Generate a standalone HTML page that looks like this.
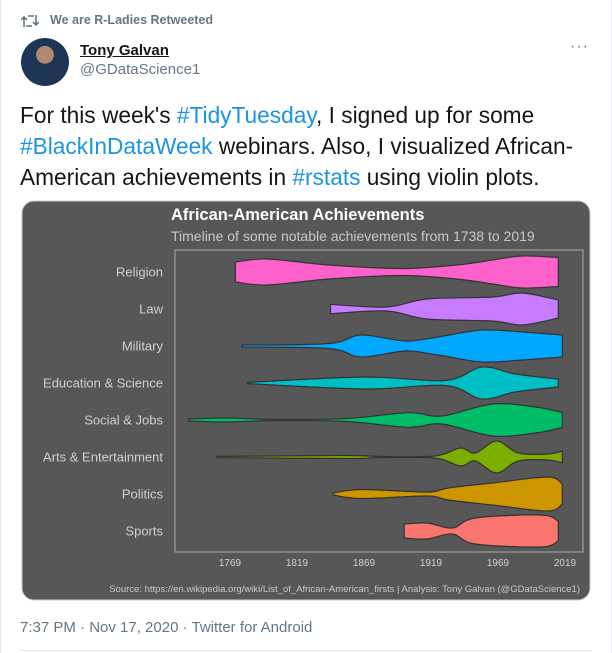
<!DOCTYPE html>
<html><head><meta charset="utf-8">
<style>
body{margin:0;width:612px;height:653px;background:#fff;font-family:"Liberation Sans",sans-serif;position:relative;overflow:hidden}
.abs{position:absolute;margin:0}
.blue{color:#1b95e0}
</style></head>
<body>
<div class="abs" style="left:0;top:0;width:1px;height:653px;background:#e6ecf0"></div>
<div class="abs" style="right:0;top:0;width:1px;height:653px;background:#e6ecf0"></div>
<svg class="abs" style="left:21px;top:13px" width="18" height="16" viewBox="0 0 18 16"><path d="M3 14V4M0 7l3-3 3 3M7 3h6v0M15 2v10M12 9l3 3 3-3M11 13H5" stroke="#657786" stroke-width="1.6" fill="none"/></svg>
<div class="abs" style="left:50px;top:13px;font-size:12.5px;font-weight:bold;color:#657786">We are R-Ladies Retweeted</div>
<div class="abs" style="left:21px;top:38px;width:48px;height:48px;border-radius:50%;background:radial-gradient(circle at 50% 35%,#b08a70 0 22%,#1f3556 23% 100%)"></div>
<div class="abs" style="left:80px;top:42px;font-size:15px;font-weight:bold;color:#14171a;text-decoration:underline">Tony Galvan</div>
<div class="abs" style="left:80px;top:61px;font-size:15px;color:#657786">@GDataScience1</div>
<div class="abs" style="left:570px;top:38px;font-size:16px;color:#657786;letter-spacing:1px">···</div>
<div class="abs" style="left:20px;top:100px;width:585px;font-size:22.7px;line-height:31px;color:#14171a">For this week's <span class="blue">#TidyTuesday</span>, I signed up for some <span class="blue">#BlackInDataWeek</span> webinars. Also, I visualized African-American achievements in <span class="blue">#rstats</span> using violin plots.</div>

<svg class="abs" id="chart" style="left:21px;top:200px" width="570" height="401" viewBox="21 200 570 401">
<rect x="22" y="201" width="568" height="399" rx="12" fill="#575757" stroke="#c8c8c8" stroke-width="1"/>
<text x="171" y="220" font-size="16.5" font-weight="bold" fill="#fff">African-American Achievements</text>
<text x="171" y="241" font-size="14" fill="#c8c8c8">Timeline of some notable achievements from 1738 to 2019</text>
<rect x="175" y="250" width="408" height="302" fill="none" stroke="#aaa" stroke-width="1"/>
<g id="violins"></g>
<text x="580" y="592" font-size="9.5" fill="#c8c8c8" text-anchor="end">Source: https://en.wikipedia.org/wiki/List_of_African-American_firsts  |  Analysis: Tony Galvan (@GDataScience1)</text>
</svg>

<div class="abs" style="left:20px;top:619px;font-size:15px;color:#657786">7:37 PM · Nov 17, 2020 · Twitter for Android</div>
<div class="abs" style="left:20px;top:650px;width:572px;height:1px;background:#e6ecf0"></div>

<script>
const categories=["Religion","Law","Military","Education & Science","Social & Jobs","Arts & Entertainment","Politics","Sports"];
const colors=["#ff61cc","#c77cff","#00a9ff","#00bfc4","#00be67","#7cae00","#cd9600","#f8766d"];
const xTicks=[1769,1819,1869,1919,1969,2019];
const religionYears=[1773,1797,1843,1897,1938,1965,1987,2014];
const religionWidths=[10,13,7,3.5,7,12,16,14.5];
const lawYears=[1844,1886,1916,1965,1987,2014];
const lawWidths=[4.7,2,10,12,16,9];
const militaryYears=[1778,1843,1867,1900,1924,1957,1987,2017];
const militaryWidths=[1,2.5,11,5,9,16,14,11];
const eduYears=[1782,1870,1930,1957,1982,2014];
const eduWidths=[0.6,6,2.5,16,9,4];
const socialYears=[1738,1767,1802,1856,1902,1927,1965,1997,2017];
const socialWidths=[1,2,0.6,1.5,7.3,4,16,13,7.5];
const artsYears=[1759,1856,1880,1922,1941,1952,1968,1984,2006,2017];
const artsWidths=[0.6,1.5,0.6,1,9,4,16,4,3,6];
const politicsYears=[1846,1867,1916,1932,1965,2006,2017];
const politicsWidths=[1,4.5,2,6,11,17,10];
const sportsYears=[1899,1916,1935,1952,2001,2014];
const sportsWidths=[7,8,3,13,16,10];
const allYears=[religionYears,lawYears,militaryYears,eduYears,socialYears,artsYears,politicsYears,sportsYears];
const allWidths=[religionWidths,lawWidths,militaryWidths,eduWidths,socialWidths,artsWidths,politicsWidths,sportsWidths];

const NS="http://www.w3.org/2000/svg";
const svg=document.getElementById('chart');
const g=document.getElementById('violins');
function xScale(yr){return 230+(yr-1769)*1.34;}
function yScale(i){return 272+i*37;}
function smooth(pts){
  let d="";
  for(let i=0;i<pts.length-1;i++){
    const p0=pts[Math.max(0,i-1)],p1=pts[i],p2=pts[i+1],p3=pts[Math.min(pts.length-1,i+2)];
    const c1=[p1[0]+(p2[0]-p0[0])/6,p1[1]+(p2[1]-p0[1])/6];
    const c2=[p2[0]-(p3[0]-p1[0])/6,p2[1]-(p3[1]-p1[1])/6];
    d+=` C${c1[0].toFixed(1)},${c1[1].toFixed(1)} ${c2[0].toFixed(1)},${c2[1].toFixed(1)} ${p2[0].toFixed(1)},${p2[1].toFixed(1)}`;
  }
  return d;
}
categories.forEach((c,i)=>{
  const cy=yScale(i);
  const ys=allYears[i],ws=allWidths[i];
  const top=ys.map((y,k)=>[xScale(y),cy-ws[k]]);
  const bot=ys.map((y,k)=>[xScale(y),cy+ws[k]]).reverse();
  let d=`M${top[0][0]},${top[0][1]}`+smooth(top)+` L${bot[0][0]},${bot[0][1]}`+smooth(bot)+"Z";
  const p=document.createElementNS(NS,'path');
  p.setAttribute('d',d);
  p.setAttribute('fill',colors[i]);
  p.setAttribute('stroke','#333');
  p.setAttribute('stroke-width','1.2');
  
  
  g.appendChild(p);
  const t=document.createElementNS(NS,'text');
  t.setAttribute('x',163);t.setAttribute('y',cy+4.5);
  t.setAttribute('text-anchor','end');t.setAttribute('font-size','13');t.setAttribute('fill','#d0d0d0');
  t.textContent=c;
  
  
  svg.appendChild(t);
});
xTicks.forEach(v=>{
  const t=document.createElementNS(NS,'text');
  t.setAttribute('x',xScale(v));t.setAttribute('y',566);
  t.setAttribute('text-anchor','middle');t.setAttribute('font-size','10');t.setAttribute('fill','#d0d0d0');
  t.textContent=v;
  
  
  svg.appendChild(t);
});
</script>
</body></html>
